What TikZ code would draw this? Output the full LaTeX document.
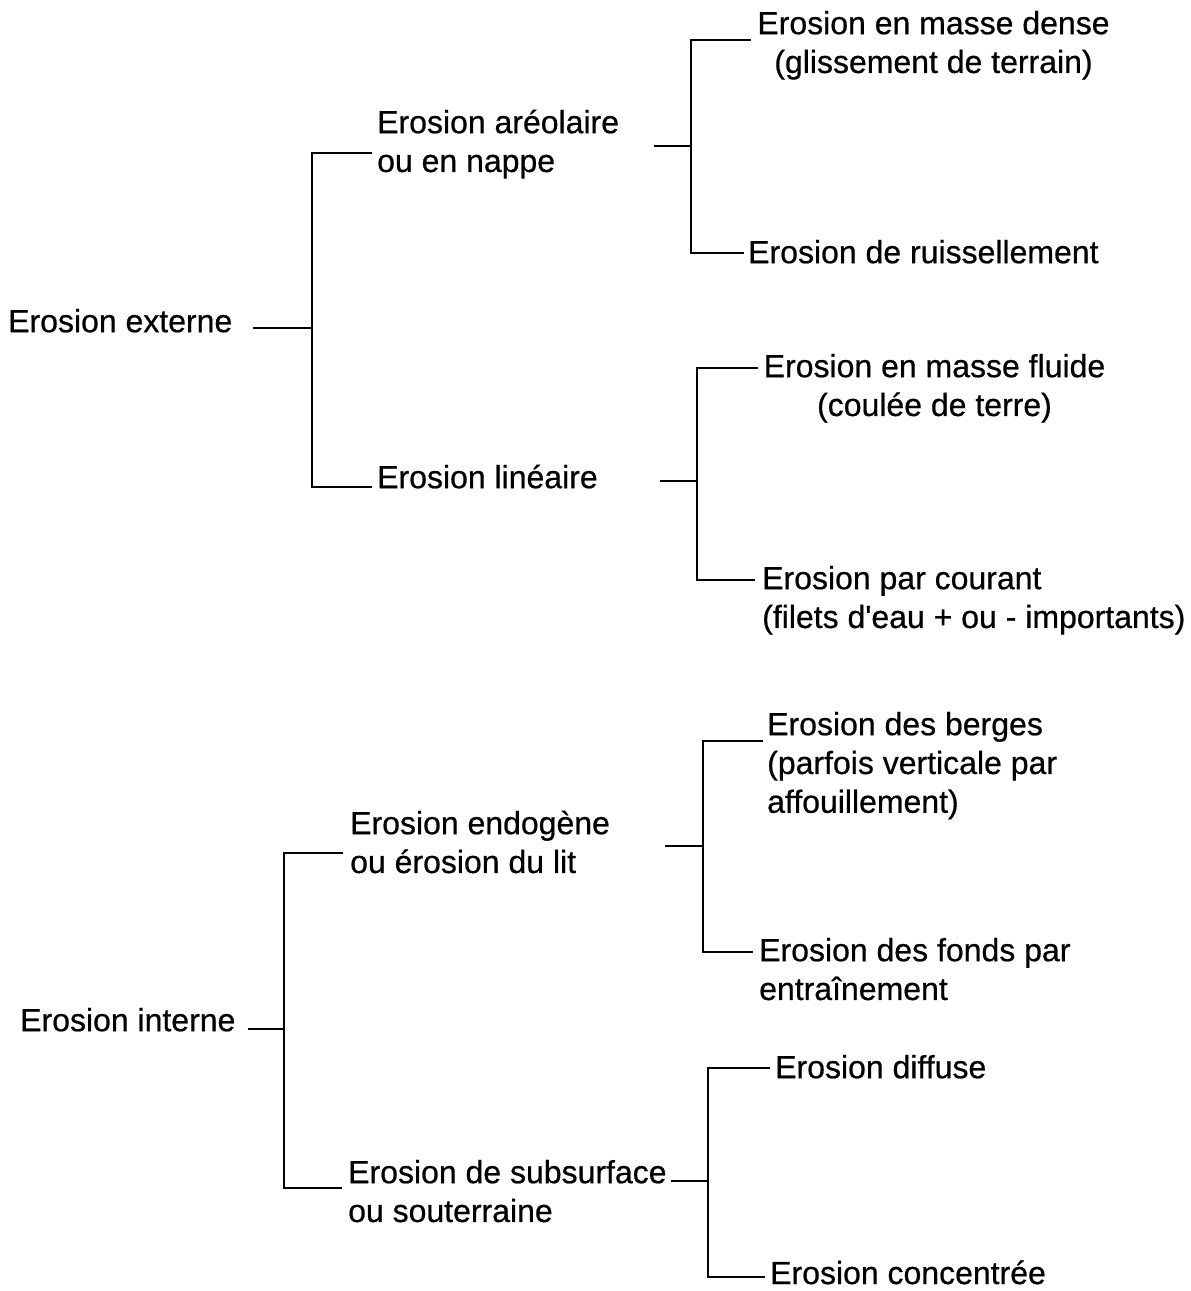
\documentclass[tikz,border=0pt]{standalone}
\usepackage{fontspec}
\setmainfont{Liberation Sans}
\newfontfamily\mainf{Liberation Sans}[FakeBold=0.6]
\usetikzlibrary{calc}
\begin{document}
\begin{tikzpicture}[x=1pt,y=-1pt,
  lbl/.style={inner sep=0pt,font=\mainf\fontsize{32}{38.8}\selectfont,align=left,anchor=north west},
  ctr/.style={lbl,align=center,anchor=north},
  ln/.style={line width=2.5pt,line join=miter,line cap=butt},
  lnt/.style={line width=2pt,line cap=butt}]
\fill[white] (0,0) rectangle (1191,1291);
\useasboundingbox (0,0) rectangle (1191,1291);

% ---------- Erosion externe ----------
\node[lbl] (n1) at (8,304.8) {\strut Erosion externe};
\node[lbl] (n2) at (377,105.8) {\strut Erosion aréolaire\\\strut ou en nappe};
\node[lbl] (n3) at (377,460.8) {\strut Erosion linéaire};
\node[ctr] (n4) at (933.5,6.8) {\strut Erosion en masse dense\\\strut (glissement de terrain)};
\node[lbl] (n5) at (748,235.8) {\strut Erosion de ruissellement};
\node[ctr] (n6) at (934.5,349.8) {\strut Erosion en masse fluide\\\strut (coulée de terre)};
\node[lbl] (n7) at (762,561.8) {\strut Erosion par courant\\\strut (filets d\textquotesingle eau + ou - importants)};

% bracket A
\coordinate (jA) at (312,328);
\coordinate (jAt) at (312,153);
\coordinate (jAb) at (312,487);
\draw[ln] ($(n1.east |- jA)+(20,0)$) -- (jA);
\draw[ln] ($(n2.west |- jAt)+(-5,0)$) -- (jAt) -- (jAb) -- ($(n3.west |- jAb)+(-5,0)$);

% bracket B
\coordinate (oB) at (654,146);
\coordinate (jB) at (691,146);
\coordinate (jBt) at (691,40);
\coordinate (jBb) at (691,253);
\draw[lnt] (oB) -- (jB);
\draw[ln] ($(n4.west |- jBt)+(-6,0)$) -- (jBt) -- (jBb) -- ($(n5.west |- jBb)+(-4,0)$);

% bracket C
\coordinate (oC) at (660,481);
\coordinate (jC) at (697,481);
\coordinate (jCt) at (697,368);
\coordinate (jCb) at (697,580);
\draw[lnt] (oC) -- (jC);
\draw[ln] ($(n6.west |- jCt)+(-6,0)$) -- (jCt) -- (jCb) -- ($(n7.west |- jCb)+(-7,0)$);

% ---------- Erosion interne ----------
\node[lbl] (n8) at (20,1003.8) {\strut Erosion interne};
\node[lbl] (n9) at (350,806.8) {\strut Erosion endogène\\\strut ou érosion du lit};
\node[lbl] (n10) at (348,1155.8) {\strut Erosion de subsurface\\\strut ou souterraine};
\node[lbl] (n11) at (767,707.8) {\strut Erosion des berges\\\strut (parfois verticale par\\\strut affouillement)};
\node[lbl] (n12) at (759,933.8) {\strut Erosion des fonds par\\\strut entraînement};
\node[lbl] (n13) at (775,1050.8) {\strut Erosion diffuse};
\node[lbl,anchor=base west] (n14) at (770,1284) {Erosion concentrée};

% bracket D
\coordinate (jD) at (284,1029);
\coordinate (jDt) at (284,853);
\coordinate (jDb) at (284,1188);
\draw[ln] ($(n8.east |- jD)+(12,0)$) -- (jD);
\draw[ln] ($(n9.west |- jDt)+(-7,0)$) -- (jDt) -- (jDb) -- ($(n10.west |- jDb)+(-6,0)$);

% bracket E
\coordinate (oE) at (665,846);
\coordinate (jE) at (703,846);
\coordinate (jEt) at (703,741);
\coordinate (jEb) at (703,952);
\draw[lnt] (oE) -- (jE);
\draw[ln] ($(n11.west |- jEt)+(-4,0)$) -- (jEt) -- (jEb) -- ($(n12.west |- jEb)+(-6,0)$);

% bracket F
\coordinate (jF) at (708,1181);
\coordinate (jFt) at (708,1068);
\coordinate (jFb) at (708,1277);
\draw[lnt] ($(n10.east |- jF)+(4,0)$) -- (jF);
\draw[ln] ($(n13.west |- jFt)+(-5,0)$) -- (jFt) -- (jFb) -- ($(n14.west |- jFb)+(-5,0)$);
\end{tikzpicture}
\end{document}
